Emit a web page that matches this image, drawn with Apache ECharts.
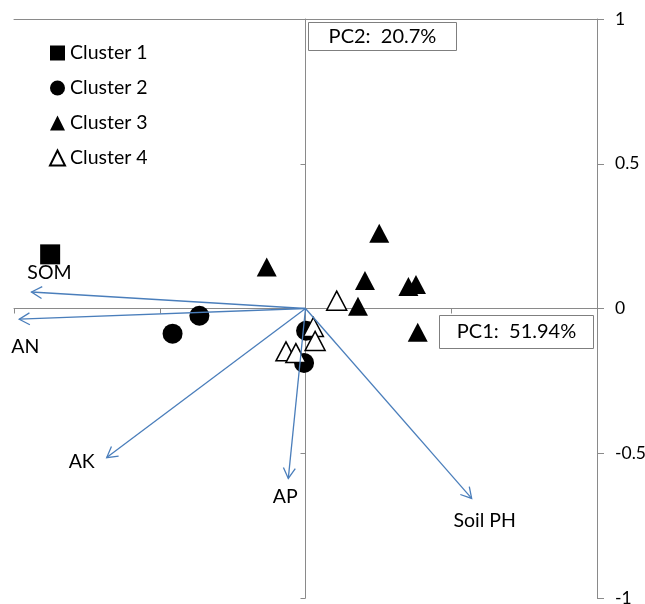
<!DOCTYPE html>
<html>
<head>
<meta charset="utf-8">
<script src="https://cdn.jsdelivr.net/npm/echarts@6/dist/echarts.min.js"></script>
<style>
  html, body { margin: 0; padding: 0; background: #fff; }
  #chart { width: 645px; height: 604px; }
</style>
</head>
<body>
<div id="chart"></div>
<script>
// PCA biplot: sample scores by cluster, soil property loadings as arrows
const clusterNames = ['Cluster 1', 'Cluster 2', 'Cluster 3', 'Cluster 4'];

const cluster1 = [[-0.876, 0.187]];
const cluster2 = [[-0.364, -0.025], [-0.456, -0.087], [0.002, -0.077], [-0.005, -0.188]];
const cluster3 = [[-0.133, 0.143], [0.253, 0.260], [0.204, 0.097], [0.353, 0.076],
                  [0.379, 0.083], [0.180, 0.008], [0.385, -0.082]];
const cluster4 = [[0.107, 0.027], [0.027, -0.064], [0.033, -0.112], [-0.067, -0.148], [-0.033, -0.154]];

const vectorNames = ['SOM', 'AN', 'AK', 'AP', 'Soil PH'];
const vectorX = [-0.940, -0.982, -0.682, -0.059, 0.570];
const vectorY = [0.057, -0.037, -0.515, -0.587, -0.656];

const yTickValues = [-1, -0.5, 0, 0.5, 1];
const pc1Label = 'PC1:  51.94%';
const pc2Label = 'PC2:  20.7%';

// label placement relative to each arrow tip (pixels)
const labelOffset = {
  'SOM': [18, -19],
  'AN': [6, 28],
  'AK': [-25, 4],
  'AP': [-3, 18],
  'Soil PH': [13, 22]
};

const FONT = 'Lato, "Open Sans", sans-serif';
const AXIS_COLOR = '#8a8a8a';
const ARROW_COLOR = '#4a7ebb';

const chart = echarts.init(document.getElementById('chart'), null, { renderer: 'canvas' });

function arrowItem(params, api) {
  const p0 = api.coord([0, 0]);
  const p1 = api.coord([api.value(0), api.value(1)]);
  const name = vectorNames[params.dataIndex];
  const ang = Math.atan2(p1[1] - p0[1], p1[0] - p0[0]);
  const L = 12, a = 0.52;
  const w1 = [p1[0] - L * Math.cos(ang - a), p1[1] - L * Math.sin(ang - a)];
  const w2 = [p1[0] - L * Math.cos(ang + a), p1[1] - L * Math.sin(ang + a)];
  const off = labelOffset[name] || [0, 0];
  return {
    type: 'group',
    children: [
      { type: 'line', shape: { x1: p0[0], y1: p0[1], x2: p1[0], y2: p1[1] },
        style: { stroke: ARROW_COLOR, lineWidth: 1.3 } },
      { type: 'polyline', shape: { points: [w1, p1, w2] },
        style: { stroke: ARROW_COLOR, lineWidth: 1.3, fill: null } },
      { type: 'text', x: p1[0] + off[0], y: p1[1] + off[1],
        style: { text: name, fill: '#000', font: '19.5px ' + FONT, align: 'center', verticalAlign: 'middle' } }
    ]
  };
}

const option = {
  backgroundColor: '#fff',
  animation: false,
  grid: { left: 14, right: 48, top: 19, bottom: 6, containLabel: false, outerBoundsMode: 'none' },
  legend: {
    orient: 'vertical',
    left: 49,
    top: 43,
    padding: 0,
    itemWidth: 15,
    itemHeight: 15,
    itemGap: 15,
    textStyle: { fontSize: 19.5, fontFamily: FONT, color: '#000', lineHeight: 20 },
    data: clusterNames
  },
  xAxis: [
    {
      type: 'value', min: -1, max: 1, interval: 0.5, position: 'bottom',
      axisLine: { onZero: true, lineStyle: { color: AXIS_COLOR, width: 1 } },
      axisTick: { show: true, length: 5, lineStyle: { color: AXIS_COLOR } },
      axisLabel: { show: false },
      splitLine: { show: false }
    },
    {
      type: 'value', min: -1, max: 1, position: 'top',
      axisLine: { show: true, onZero: false, lineStyle: { color: AXIS_COLOR, width: 1 } },
      axisTick: { show: false },
      axisLabel: { show: false },
      splitLine: { show: false }
    }
  ],
  yAxis: [
    {
      type: 'value', min: -1, max: 1, interval: 0.5, position: 'right',
      axisLine: { show: true, onZero: false, lineStyle: { color: AXIS_COLOR, width: 1 } },
      axisTick: { show: true, length: 7, lineStyle: { color: AXIS_COLOR } },
      axisLabel: {
        show: true, margin: 18, color: '#000', fontSize: 17.5, fontFamily: FONT,
        formatter: v => (yTickValues.indexOf(v) >= 0 ? String(v) : '')
      },
      splitLine: { show: false }
    },
    {
      type: 'value', min: -1, max: 1, interval: 0.5, position: 'left',
      axisLine: { show: true, onZero: true, onZeroAxisIndex: 0, lineStyle: { color: AXIS_COLOR, width: 1 } },
      axisTick: { show: true, length: 5, lineStyle: { color: AXIS_COLOR } },
      axisLabel: { show: false },
      splitLine: { show: false }
    }
  ],
  series: [
    {
      name: 'Cluster 1', type: 'scatter', symbol: 'rect', symbolSize: 20,
      itemStyle: { color: '#000', opacity: 1 }, data: cluster1, z: 3
    },
    {
      name: 'Cluster 2', type: 'scatter', symbol: 'circle', symbolSize: 20,
      itemStyle: { color: '#000', opacity: 1 }, data: cluster2, z: 3
    },
    {
      name: 'Cluster 3', type: 'scatter', symbol: 'triangle', symbolSize: [20, 19],
      itemStyle: { color: '#000', opacity: 1 }, data: cluster3, z: 3
    },
    {
      name: 'Cluster 4', type: 'scatter', symbol: 'triangle', symbolSize: [20, 19],
      itemStyle: { color: '#fff', borderColor: '#000', borderWidth: 1.5, opacity: 1 }, data: cluster4, z: 3
    },
    {
      name: 'Loadings', type: 'custom', renderItem: arrowItem, z: 5, silent: true,
      data: vectorNames.map((n, i) => [vectorX[i], vectorY[i]])
    }
  ],
  graphic: [
    {
      type: 'group', left: 308, top: 22,
      children: [
        { type: 'rect', shape: { x: 0, y: 0, width: 148, height: 28 },
          style: { fill: '#fff', stroke: '#7f7f7f', lineWidth: 1 } },
        { type: 'text', x: 74, y: 14,
          style: { text: pc2Label, fill: '#000', font: '20px ' + FONT, align: 'center', verticalAlign: 'middle' } }
      ]
    },
    {
      type: 'group', left: 439, top: 315,
      children: [
        { type: 'rect', shape: { x: 0, y: 0, width: 154, height: 33 },
          style: { fill: '#fff', stroke: '#7f7f7f', lineWidth: 1 } },
        { type: 'text', x: 77, y: 16.5,
          style: { text: pc1Label, fill: '#000', font: '20px ' + FONT, align: 'center', verticalAlign: 'middle' } }
      ]
    }
  ]
};

chart.setOption(option);
</script>
</body>
</html>
